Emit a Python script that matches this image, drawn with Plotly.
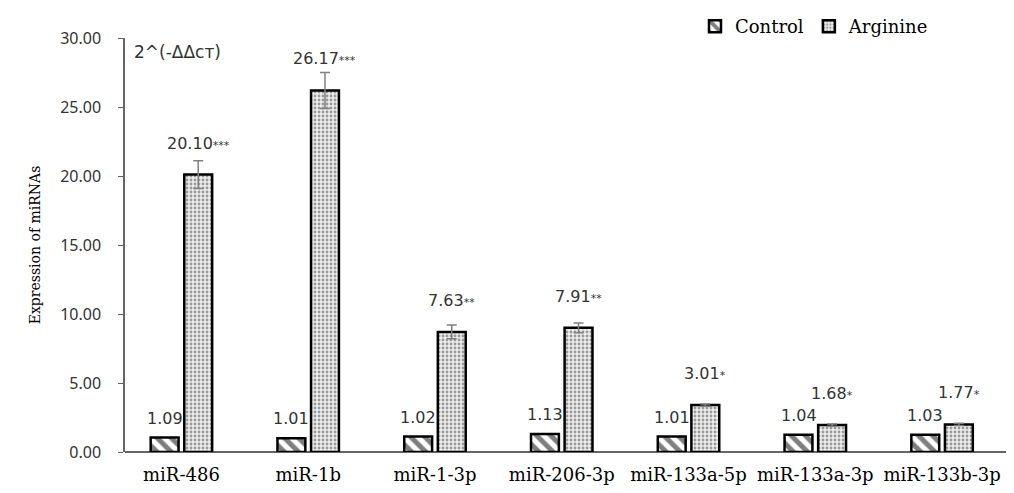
import plotly.graph_objects as go

categories = ["miR-486", "miR-1b", "miR-1-3p", "miR-206-3p", "miR-133a-5p", "miR-133a-3p", "miR-133b-3p"]
control_values = [1.05, 1.0, 1.12, 1.3, 1.12, 1.25, 1.25]
arginine_values = [20.1, 26.2, 8.7, 9.0, 3.4, 1.95, 2.0]
arginine_errors = [1.0, 1.3, 0.5, 0.35, 0.08, 0.08, 0.08]
control_labels = ["1.09", "1.01", "1.02", "1.13", "1.01", "1.04", "1.03"]
arginine_labels = ["20.10", "26.17", "7.63", "7.91", "3.01", "1.68", "1.77"]
arginine_stars = ["***", "***", "**", "**", "*", "*", "*"]
y_ticks = [0, 5, 10, 15, 20, 25, 30]

W, H = 1014, 493
# the page body adds an 8 px offset; margins compensate for it
ML, MR, MT, MB = 117, 14, 30, 49
XR = [-0.445, 6.52]
BARGAP = 0.47

fig = go.Figure()
fig.add_trace(go.Bar(
    name="Control", x=categories, y=control_values,
    marker=dict(color="white", line=dict(color="black", width=2.5),
                pattern=dict(shape="\\", fgcolor="black", bgcolor="white", size=10, solidity=0.5)),
))
fig.add_trace(go.Bar(
    name="Arginine", x=categories, y=arginine_values,
    error_y=dict(type="data", array=arginine_errors, visible=True, color="#808080", thickness=1.5, width=5),
    marker=dict(color="white", line=dict(color="black", width=2.5),
                pattern=dict(shape=".", fgcolor="#444444", bgcolor="#eeeeee", size=4, solidity=0.4)),
))

plot_w = W - ML - MR
cat_px = plot_w / (XR[1] - XR[0])
slot = cat_px * (1 - BARGAP) / 2
offset = slot / 2

num_font = dict(family="DejaVu Sans", size=16, color="#333333")
for i, c in enumerate(categories):
    fig.add_annotation(x=c, y=control_values[i], text=control_labels[i], showarrow=False,
                       yanchor="bottom", xanchor="center", xshift=-offset, yshift=8, font=num_font)
    fig.add_annotation(x=c, y=arginine_values[i],
                       text=arginine_labels[i] + '<span style="font-size:11px">' + arginine_stars[i] + "</span>",
                       showarrow=False, yanchor="bottom", xanchor="center", xshift=offset, yshift=20, font=num_font)

fig.add_annotation(xref="paper", yref="paper", x=0.008, y=0.995, xanchor="left", yanchor="top",
                   text="2^(-ΔΔcт)", showarrow=False, font=dict(family="DejaVu Sans", size=17, color="#333333"))

fig.update_layout(
    width=W, height=H,
    margin=dict(l=ML, r=MR, t=MT, b=MB, autoexpand=False),
    paper_bgcolor="white", plot_bgcolor="white",
    barmode="group", bargap=BARGAP, bargroupgap=0.17,
    showlegend=True,
    legend=dict(orientation="h", x=0.6775, y=1.0, xref="container", yref="container",
                xanchor="left", yanchor="top",
                font=dict(family="DejaVu Serif", size=18, color="black"),
                itemwidth=30, traceorder="normal"),
    xaxis=dict(type="category", range=XR, showline=False, ticks="", showgrid=False,
               ticklabelstandoff=10,
               tickfont=dict(family="DejaVu Serif", size=18, color="black"), zeroline=False),
    yaxis=dict(range=[0, 30], tickvals=y_ticks, ticktext=[f"{v:.2f}" for v in y_ticks],
               showline=True, linecolor="#666666", linewidth=1.5, ticks="outside", ticklen=5,
               tickcolor="#666666", showgrid=False, zeroline=True, zerolinecolor="#666666", zerolinewidth=1.5,
               ticklabelstandoff=14,
               tickfont=dict(family="Noto Sans", size=16, color="#333333"),
               title=dict(text="Expression of miRNAs", standoff=16,
                          font=dict(family="DejaVu Serif", size=14, color="black"))),
)

fig.write_html("out.html")
